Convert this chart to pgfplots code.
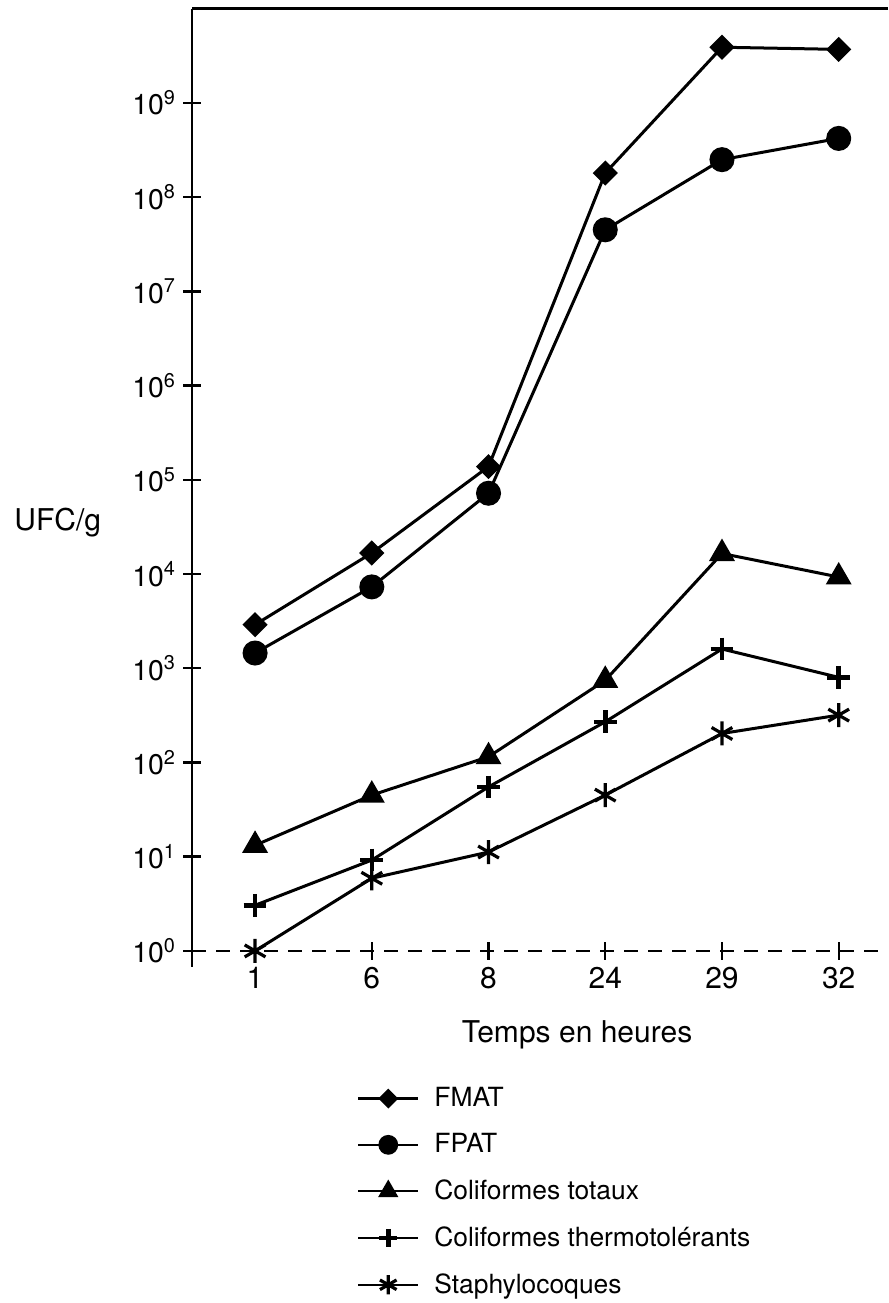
\documentclass[border=0pt]{standalone}
\usepackage{fontspec}
\setmainfont{TeX Gyre Heros}
\usepackage{pgfplots}
\pgfplotsset{compat=1.18}

\begin{document}
\begin{tikzpicture}
\useasboundingbox (-96pt,-168pt) rectangle (348pt,483.35pt);
\begin{axis}[
    scale only axis, width=348pt, height=479pt,
    at={(0,0)}, anchor=south west,
    clip=false,
    ymode=log, ymin=0.676, ymax=1e10,
    xmin=-0.54, xmax=5.424,
    axis x line=middle, axis y line=left,
    x axis line style={-, dash pattern=on 7pt off 5pt, line width=1.2pt},
    y axis line style={-, line width=1.4pt},
    xtick={0,...,5}, xticklabels={1,6,8,24,29,32},
    ytick={1,10,100,1000,1e4,1e5,1e6,1e7,1e8,1e9},
    yticklabels={10\textsuperscript{0},10\textsuperscript{1},10\textsuperscript{2},10\textsuperscript{3},10\textsuperscript{4},
                 10\textsuperscript{5},10\textsuperscript{6},10\textsuperscript{7},10\textsuperscript{8},10\textsuperscript{9}},
    minor tick length=0pt,
    tick align=center, major tick length=9pt,
    tick style={black, line width=1.2pt},
    hide obscured x ticks=false, hide obscured y ticks=false,
    xticklabel style={font=\fontsize{15}{18}\selectfont},
    yticklabel style={font=\fontsize{14.2}{17}\selectfont},
    ylabel={UFC/g},
    ylabel style={rotate=-90, at={(axis description cs:-0.193,0.4635)}, anchor=center, font=\fontsize{15}{18}\selectfont},
    xlabel={Temps en heures},
    xlabel style={at={(axis description cs:0.553,-0.071)}, anchor=center, font=\fontsize{15}{18}\selectfont},
    legend style={draw=none, fill=none, at={(axis description cs:0.228,-0.117)}, anchor=north west,
                  font=\fontsize{13.2}{16}\selectfont, row sep=8pt, column sep=5.5pt},
    legend cell align=left,
    legend image code/.code={\draw[mark repeat=2,mark phase=2,#1,line width=1.1pt,every mark/.append style={scale=0.8}]
        plot coordinates {(0pt,0pt) (15pt,0pt) (30pt,0pt)};},
    every axis plot/.append style={black, line width=1.5pt},
]
\addplot[mark=square*, mark size=3.7pt, mark options={rotate=45}]
    coordinates {(0,2900) (1,16700) (2,138000) (3,1.8e8) (4,3.9e9) (5,3.7e9)};
\addplot[mark=*, mark size=5.5pt]
    coordinates {(0,1450) (1,7300) (2,72000) (3,4.5e7) (4,2.5e8) (5,4.2e8)};
\addplot[mark=triangle*, mark size=6pt]
    coordinates {(0,13.2) (1,45) (2,115) (3,745) (4,16500) (5,9300)};
\addplot[mark=+, mark size=5.7pt, mark options={line width=2.3pt}]
    coordinates {(0,3.05) (1,9.2) (2,55) (3,270) (4,1600) (5,800)};
\addplot[mark=asterisk, mark size=6pt, mark options={line width=1.6pt}]
    coordinates {(0,1) (1,5.9) (2,11.2) (3,45) (4,203) (5,318)};
\legend{FMAT, FPAT, Coliformes totaux, Coliformes thermotolérants, Staphylocoques}
\draw[line width=1.4pt] (rel axis cs:0,1) -- (rel axis cs:1,1);
\end{axis}
\end{tikzpicture}
\end{document}
